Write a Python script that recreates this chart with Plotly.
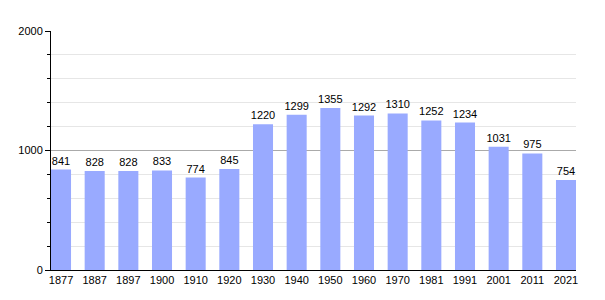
import plotly.graph_objects as go

years = ["1877", "1887", "1897", "1900", "1910", "1920", "1930", "1940", "1950",
         "1960", "1970", "1981", "1991", "2001", "2011", "2021"]
population = [841, 828, 828, 833, 774, 845, 1220, 1299, 1355, 1292, 1310, 1252,
              1234, 1031, 975, 754]
y_ticks = [0, 1000, 2000]

bar_w = 0.595

fig = go.Figure(go.Bar(
    x=years, y=population,
    marker=dict(color="#99aaff", line=dict(width=0)),
    text=[str(v) for v in population], textposition="outside",
    textfont=dict(size=11, color="black", family="Liberation Sans, Arial"),
    constraintext="none", textangle=0,
    cliponaxis=False, width=bar_w,
))

fig.update_layout(
    width=605, height=300,
    margin=dict(l=51, r=29, t=31, b=30),
    paper_bgcolor="white", plot_bgcolor="white",
    showlegend=False,
    font=dict(family="Liberation Sans, Arial", size=11, color="black"),
)
fig.update_xaxes(
    type="category", range=[-bar_w / 2, len(years) - 1 + bar_w / 2],
    showline=True, linecolor="black", linewidth=1,
    ticks="", tickfont=dict(size=11), showgrid=False,
)
fig.update_yaxes(
    range=[0, 2000], tickvals=y_ticks, ticktext=[str(v) for v in y_ticks],
    showline=True, linecolor="black", linewidth=1,
    ticks="outside", ticklen=5, tickcolor="black",
    gridcolor="#aaaaaa", gridwidth=1, zeroline=False,
    minor=dict(dtick=200, ticks="outside", ticklen=3, tickcolor="black",
               showgrid=True, gridcolor="#e6e6e6", gridwidth=1),
    tickfont=dict(size=11),
)

fig.write_html("out.html")
